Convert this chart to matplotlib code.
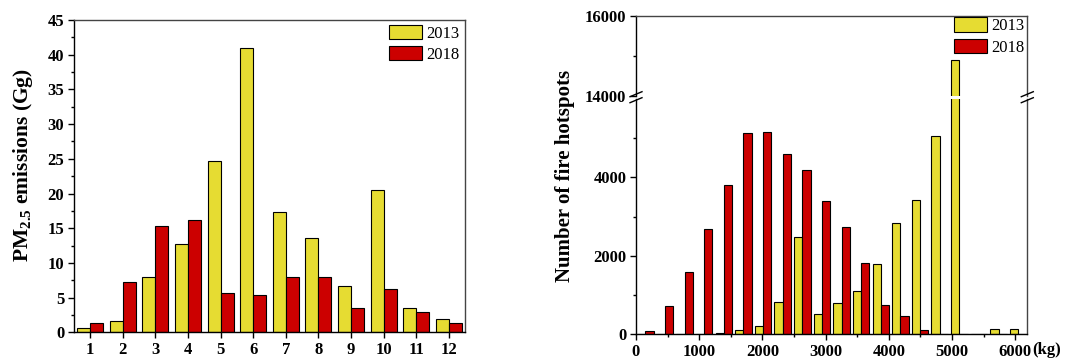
import numpy as np
import matplotlib
matplotlib.use("Agg")
import matplotlib.pyplot as plt
from matplotlib.lines import Line2D
from matplotlib.ticker import MultipleLocator, FixedLocator

plt.rcParams['font.family'] = ['Liberation Serif', 'DejaVu Serif']
plt.rcParams['mathtext.fontset'] = 'custom'
plt.rcParams['mathtext.rm'] = 'Liberation Serif'
plt.rcParams['mathtext.bf'] = 'Liberation Serif:bold'

# Paramaters / data
months = np.arange(1, 13)
pm25_2013 = [0.67, 1.63, 7.97, 12.73, 24.73, 40.97, 17.34, 13.64, 6.68, 20.51, 3.55, 1.92]
pm25_2018 = [1.30, 7.25, 15.37, 16.14, 5.72, 5.33, 7.93, 7.93, 3.55, 6.24, 2.98, 1.30]

# fuel load bins (kg), 20 categories
bin_kg = 148 + 310.4 * np.arange(20)
hot_2013 = [0, 0, 8, 8, 30, 110, 220, 830, 2480, 527, 807, 1096, 1783, 2845, 3423,
            5053, 14900, 8, 127, 144]
hot_2018 = [85, 730, 1580, 2675, 3796, 5120, 5146, 4594, 4178, 3397, 2743, 1809,
            747, 459, 119, 8, 8, 0, 0, 0]

yellow = '#E6DC32'
red = '#CC0000'
W, H = 1067, 358
TICK = 12

fig = plt.figure(figsize=(W / 100, H / 100), dpi=100)


def style(ax):
    for s in ['top', 'right']:
        ax.spines[s].set_color('#444444')
    for s in ax.spines.values():
        s.set_linewidth(1.0)
    ax.tick_params(which='major', direction='out', length=4, width=1.0, labelsize=TICK, pad=3)
    ax.tick_params(which='minor', direction='out', length=2.5, width=1.0)
    for lab in ax.get_xticklabels() + ax.get_yticklabels():
        lab.set_fontweight('bold')


############
# Left     #
############
ax1 = fig.add_axes([74 / W, 1 - 332.3 / H, (465 - 74) / W, (332.3 - 20) / H])
ax1.bar(months - 0.2, pm25_2013, 0.4, color=yellow, edgecolor='black', linewidth=0.8, label='2013')
ax1.bar(months + 0.2, pm25_2018, 0.4, color=red, edgecolor='black', linewidth=0.8, label='2018')
ax1.set_xlim(0.5, 12.5)
ax1.set_ylim(0, 45)
ax1.set_xticks(months)
ax1.yaxis.set_major_locator(MultipleLocator(5))
ax1.yaxis.set_minor_locator(MultipleLocator(2.5))
style(ax1)
fig.text(23 / W, 1 - 165 / H, 'PM$_{\\mathbf{2.5}}$ emissions (Gg)', rotation=90, fontsize=15.5,
         fontweight='bold', ha='center', va='center')
ax1.legend(loc='upper right', bbox_to_anchor=(0.985, 0.985), frameon=False, fontsize=12,
           handlelength=1.95, handleheight=0.95, handletextpad=0.25, labelspacing=0.27,
           borderpad=0, borderaxespad=0)

############
# Right    #
############
x0, x1 = 636 / W, 1027.3 / W
ax_up = fig.add_axes([x0, 1 - 95.7 / H, x1 - x0, (95.7 - 16) / H])
ax_lo = fig.add_axes([x0, 1 - 334.3 / H, x1 - x0, (334.3 - 98.7) / H])

for ax in (ax_up, ax_lo):
    ax.bar(bin_kg - 65, hot_2013, 130, color=yellow, edgecolor='black', linewidth=0.8, label='2013')
    ax.bar(bin_kg + 65, hot_2018, 130, color=red, edgecolor='black', linewidth=0.8, label='2018')
    ax.set_xlim(0, 6190)

ax_up.set_ylim(14000, 16000)
ax_lo.set_ylim(0, 6000)
ax_up.yaxis.set_major_locator(FixedLocator([14000, 16000]))
ax_up.yaxis.set_minor_locator(FixedLocator([15000]))
ax_lo.yaxis.set_major_locator(FixedLocator([0, 2000, 4000]))
ax_lo.yaxis.set_minor_locator(FixedLocator([1000, 3000, 5000]))
ax_lo.xaxis.set_major_locator(MultipleLocator(1000))
ax_lo.xaxis.set_minor_locator(MultipleLocator(500))
ax_up.spines['bottom'].set_visible(False)
ax_lo.spines['top'].set_visible(False)
ax_up.tick_params(axis='x', which='both', bottom=False, labelbottom=False)
style(ax_up)
style(ax_lo)

ax_lo.annotate('(kg)', xy=(6000, 0), xycoords=('data', 'axes fraction'),
               xytext=(12.5, -5.5), textcoords='offset points', ha='left', va='top',
               fontsize=TICK, fontweight='bold')

fig.text(565 / W, 1 - 176 / H, 'Number of fire hotspots', rotation=90, fontsize=15,
         fontweight='bold', ha='center', va='center')

ax_up.legend(loc='upper right', bbox_to_anchor=(0.992, 0.985), frameon=False, fontsize=12,
             handlelength=1.95, handleheight=0.95, handletextpad=0.25, labelspacing=0.27,
             borderpad=0, borderaxespad=0)

# break marks
yb = 1 - 97.2 / H
for xs in (636, 1027.3):
    for dy in (3.0, -3.0):
        fig.add_artist(Line2D([(xs - 6) / W, (xs + 6) / W],
                              [yb + (dy - 2.5) / H, yb + (dy + 2.5) / H],
                              color='black', linewidth=1.0))

plt.savefig('out.png', dpi=100)
